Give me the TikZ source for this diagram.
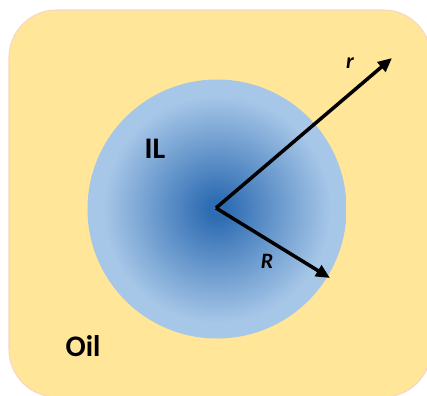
\documentclass[tikz,border=0pt]{standalone}
\usepackage{fontspec}
\setmainfont{Carlito}
\usetikzlibrary{arrows.meta}
\definecolor{oilfill}{HTML}{FFE699}
\definecolor{oilline}{HTML}{F8D5C4}
\definecolor{ilcore}{HTML}{2F6DB3}
\definecolor{iledge}{HTML}{A7C7E8}
\pgfdeclareradialshading{ilshade}{\pgfpoint{0bp}{0bp}}{color(0bp)=(ilcore);color(2bp)=(ilcore);color(22bp)=(iledge);color(50bp)=(iledge)}
\tikzset{radius arrow/.style={line width=2pt,-{Triangle[length=8pt,width=7pt]}},
lbl/.style={font=\bfseries\fontsize{17}{19}\selectfont,inner sep=0pt},
rlbl/.style={font=\bfseries\itshape\fontsize{12.5}{14}\selectfont,inner sep=0pt}}
\begin{document}
\begin{tikzpicture}[x=0.02cm,y=-0.02cm]
\useasboundingbox(0,0)rectangle(427,396);
\draw[oilline,fill=oilfill,line width=0.6pt,rounded corners=0.95cm](9,10)rectangle(431,397);
\shade[shading=ilshade](217,209)circle(129.5);
\coordinate(c)at(216,208);\coordinate(rt)at(392,58);\coordinate(Rt)at(330,278);
\draw[radius arrow](c)--(rt);\draw[radius arrow](c)--(Rt);
\node[lbl](il)at(155,149){IL};\node[lbl](oil)at(83,346){Oil};
\node[rlbl](r)at(350,63){r};\node[rlbl](R)at(267,261){R};
\end{tikzpicture}
\end{document}
